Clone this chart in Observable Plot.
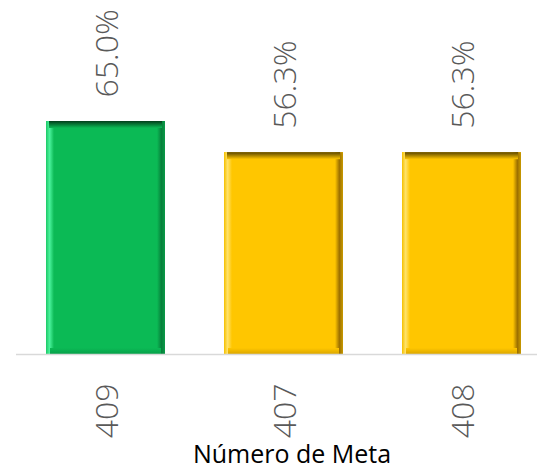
<!DOCTYPE html>
<html>
<head>
<meta charset="utf-8">
<script src="https://cdn.jsdelivr.net/npm/d3@7"></script>
<script src="https://cdn.jsdelivr.net/npm/@observablehq/plot@0.6"></script>
<style>
  html, body { margin: 0; padding: 0; background: #fff; }
  #chart svg { display: block; }
</style>
</head>
<body>
<div id="chart"></div>
<script>
// ---- data ----
const metas = ["409", "407", "408"];
const values = [65.0, 56.3, 56.3];
const tickLabels = ["409", "407", "408"];
const axisTitle = "Número de Meta";

const data = metas.map((m, i) => ({meta: m, value: values[i], label: tickLabels[i]}));

// ---- styles ----
const theme = {
  green: {body: "#0bba55", light: "#4af39c", lightEdge: "#1cc866", dark: "#07803b", darkEdge: "#0a9a48", top: "#033d1b", bottom: "#08a04a"},
  yellow: {body: "#ffc600", light: "#ffe36b", lightEdge: "#f5c000", dark: "#9c7000", darkEdge: "#c99a00", top: "#5a4500", bottom: "#dba700"}
};
const isGreen = d => d.value >= 60;

function defs() {
  const g = d3.create("svg:defs");
  for (const [name, c] of Object.entries(theme)) {
    const l = g.append("linearGradient").attr("id", `left-${name}`).attr("x1", 0).attr("x2", 1).attr("y1", 0).attr("y2", 0);
    l.append("stop").attr("offset", 0).attr("stop-color", c.lightEdge);
    l.append("stop").attr("offset", 0.45).attr("stop-color", c.light);
    l.append("stop").attr("offset", 1).attr("stop-color", c.body);
    const r = g.append("linearGradient").attr("id", `right-${name}`).attr("x1", 0).attr("x2", 1).attr("y1", 0).attr("y2", 0);
    r.append("stop").attr("offset", 0).attr("stop-color", c.body);
    r.append("stop").attr("offset", 0.55).attr("stop-color", c.dark);
    r.append("stop").attr("offset", 1).attr("stop-color", c.darkEdge);
    const t = g.append("linearGradient").attr("id", `top-${name}`).attr("x1", 0).attr("x2", 0).attr("y1", 0).attr("y2", 1);
    t.append("stop").attr("offset", 0).attr("stop-color", c.top);
    t.append("stop").attr("offset", 1).attr("stop-color", c.body);
    const b = g.append("linearGradient").attr("id", `bottom-${name}`).attr("x1", 0).attr("x2", 0).attr("y1", 0).attr("y2", 1);
    b.append("stop").attr("offset", 0).attr("stop-color", c.body);
    b.append("stop").attr("offset", 1).attr("stop-color", c.bottom);
  }
  return g.node();
}

function bevelBars(rows, name) {
  const bw = 119, edge = 8;
  return [
    Plot.barY(rows, {x: "meta", y: "value", fill: theme[name].body}),
    Plot.barY(rows, {x: "meta", y: "value", fill: `url(#left-${name})`, insetRight: bw - edge}),
    Plot.barY(rows, {x: "meta", y: "value", fill: `url(#right-${name})`, insetLeft: bw - edge}),
    Plot.barY(rows, {x: "meta", y1: "value", y2: "value", fill: `url(#top-${name})`, insetBottom: -7, insetLeft: 3, insetRight: 3}),
    Plot.barY(rows, {x: "meta", y1: 0, y2: 0, fill: `url(#bottom-${name})`, insetTop: -6, insetLeft: 4, insetRight: 4})
  ];
}

const chart = Plot.plot({
  width: 537,
  height: 474,
  marginLeft: 16,
  marginRight: 0,
  marginTop: 121,
  marginBottom: 120,
  style: {fontFamily: "'Open Sans', sans-serif", background: "#fff"},
  x: {domain: metas, paddingInner: 0.3333, paddingOuter: 0.126, align: 0.644, axis: null},
  y: {domain: [0, 65], axis: null},
  marks: [
    defs,
    ...bevelBars(data.filter(isGreen), "green"),
    ...bevelBars(data.filter(d => !isGreen(d)), "yellow"),
    Plot.ruleY([0], {stroke: "#d9d9d9", strokeWidth: 1.5}),
    Plot.text(data, {x: "meta", y: "value", text: d => d.value.toFixed(1) + "%", rotate: -90, textAnchor: "start", lineAnchor: "middle", dx: 2, dy: -24, fontSize: 32, fontWeight: 300, fill: "#595959"}),
    Plot.text(data, {x: "meta", frameAnchor: "bottom", text: "label", rotate: -90, textAnchor: "end", lineAnchor: "middle", dx: 2, dy: 29, fontSize: 32, fontWeight: 300, fill: "#595959"}),
    Plot.text([axisTitle], {frameAnchor: "bottom", text: d => d, textAnchor: "middle", lineAnchor: "bottom", dx: 15, dy: 108, fontSize: 25, fill: "#000"})
  ]
});
document.getElementById("chart").appendChild(chart);
</script>
</body>
</html>
